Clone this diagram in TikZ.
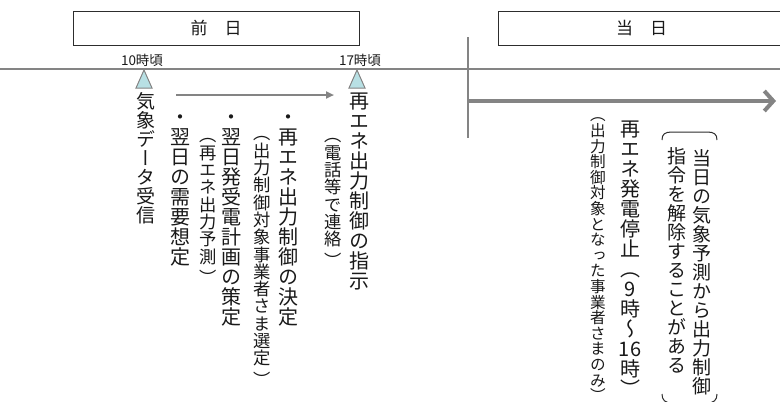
\documentclass[tikz,border=0pt]{standalone}
\usepackage{fontspec}
\setmainfont{Noto Sans CJK JP}
\newfontfamily\vjp{Noto Sans CJK JP}[RawFeature=+vert]
\usetikzlibrary{arrows.meta}
\definecolor{linegray}{RGB}{132,132,132}
\definecolor{tricyan}{RGB}{184,224,228}
\definecolor{boxline}{RGB}{45,45,45}
\definecolor{txt}{RGB}{25,25,25}

\def\vsend{\relax VSEND}
\newcommand\vchar[1]{\hbox to 1em{\hss\vrule height .88em depth .12em width 0pt\relax#1\hss}}
\def\vsaux#1{\ifx\vsend#1\else\ifcat\noexpand#1\relax#1\else\vchar{#1}\fi\expandafter\vsaux\fi}
\newcommand\vstack[1]{\vbox{\offinterlineskip\vsaux#1\vsend}}
\newcommand\vXVI{\hbox to 1em{\vrule height .88em depth .12em width 0pt\hss 16\hss}}
\newcommand\vRP{\hbox to 1em{\vrule height .88em depth .12em width 0pt\hss\smash{\lower.25em\hbox{）}}\hss}}

\tikzset{
  vt/.style={inner sep=0pt, anchor=north, text=txt, font=\vjp\fontsize{20}{20}\selectfont},
  vtm/.style={vt, font=\vjp\fontsize{19}{19}\selectfont},
  vts/.style={vt, font=\vjp\fontsize{17.3}{17.3}\selectfont},
  vtx/.style={vt, font=\vjp\fontsize{15.6}{15.6}\selectfont},
  daybox/.style={draw=boxline, line width=1pt, minimum width=286pt, minimum height=34pt, inner sep=0pt, text=txt, font=\fontsize{17}{17}\selectfont},
  tlabel/.style={inner sep=0pt, text=txt, font=\fontsize{13.5}{13.5}\selectfont},
  tline/.style={draw=linegray, line width=1.5pt},
  divline/.style={draw=linegray, line width=2pt},
  bigarrow/.style={draw=linegray, line width=4pt, -{Straight Barb[length=9pt,width=20pt]}},
  smallarrow/.style={draw=linegray, line width=2pt, -{Triangle[length=8pt,width=7pt]}},
  marker/.style={draw=linegray, fill=tricyan, line width=1pt, line join=miter},
  bracket/.style={draw=boxline, line width=1pt}
}

\begin{document}
\begin{tikzpicture}[x=1pt,y=-1pt]
\path[use as bounding box] (0,0) rectangle (780,402);
\clip (0,0) rectangle (780,402);
\fill[white] (0,0) rectangle (780,402);

% day header boxes
\node[daybox] (zenjitsu) at (216,28) {前　日};
\node[daybox, anchor=west] (toujitsu) at (498,28.5) {当　日};

% timeline and divider
\coordinate (tlL) at (0,69);
\coordinate (tlR) at (780,69);
\draw[tline] (tlL) -- (tlR);
\coordinate (dvT) at (468,37);
\coordinate (dvB) at (468,138);
\draw[divline] (dvT) -- (dvB);
\coordinate (baS) at (467,101);
\coordinate (baE) at (776,101);
\draw[bigarrow] (baS) -- (baE);

% time labels
\node[tlabel] (l10) at (142,60) {10時頃};
\node[tlabel] (l17) at (360,60) {17時頃};

% markers
\draw[marker] (144,70) -- (152,88) -- (136,88) -- cycle;
\draw[marker] (357,70) -- (365,88) -- (349,88) -- cycle;

% small arrow
\coordinate (saS) at (176,95);
\coordinate (saE) at (334,95);
\draw[smallarrow] (saS) -- (saE);

% previous-day columns
\node[vtm] (c1) at (146,92)   {\vstack{気象データ受信}};
\node[vt]  (c2) at (180.5,107){\vstack{・翌日の需要想定}};
\node[vts] (c3) at (208,126.5){\vstack{（再エネ出力予測\vRP}};
\node[vt]  (c4) at (231,107)  {\vstack{・翌日発受電計画の策定}};
\node[vts] (c5) at (262,124.5){\vstack{（出力制御対象事業者さま選定\vRP}};
\node[vt]  (c6) at (288,107)  {\vstack{・再エネ出力制御の決定}};
\node[vts] (c7) at (333,126.5){\vstack{（電話等で連絡\vRP}};
\node[vt]  (c8) at (359,91)   {\vstack{再エネ出力制御の指示}};

% same-day columns
\node[vtx] (c9)  at (598,107) {\vstack{（出力制御対象となった事業者さまのみ）}};
\node[vt]  (c10) at (630,119) {\vstack{再エネ発電停止（9時～\vXVI 時）}};
\node[vtm] (c11) at (677,147) {\vstack{指令を解除することがある}};
\node[vtm] (c12) at (702,149) {\vstack{当日の気象予測から出力制御}};

% bracket around the note
\draw[bracket] (662,140) .. controls (662,134) and (665,132) .. (672,132) -- (707,132) .. controls (714,132) and (717,134) .. (717,140);
\draw[bracket] (662,394) .. controls (662,400) and (665,403) .. (672,403) -- (707,403) .. controls (714,403) and (717,400) .. (717,394);
\end{tikzpicture}
\end{document}
